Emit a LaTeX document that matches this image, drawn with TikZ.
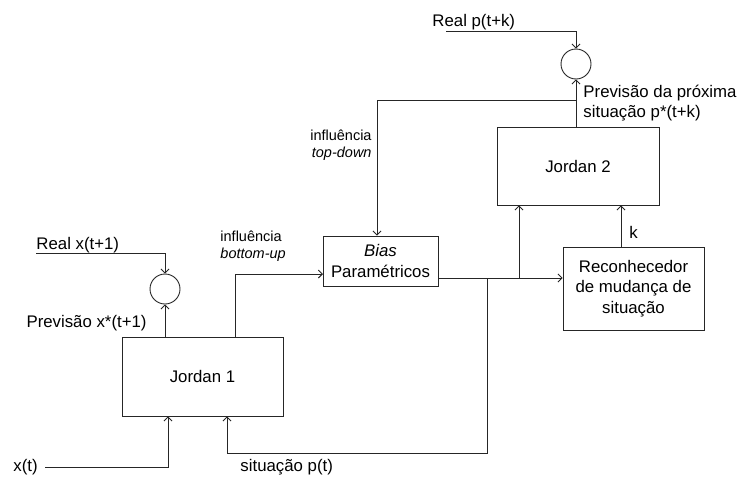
\documentclass[tikz,border=0pt]{standalone}
\usepackage{fontspec}
\setmainfont{Liberation Sans}
\usetikzlibrary{arrows.meta}
\begin{document}
\begin{tikzpicture}[x=1pt,y=-1pt,
  line width=0.9pt,
  flow/.style={draw=black!85, -{Straight Barb[length=4pt,width=8pt]}},
  block/.style={draw=black!85, rectangle, inner sep=0pt, align=center,
    font=\fontsize{16.8}{20.5}\selectfont},
  cmp/.style={draw=black!85, circle, minimum size=30pt, inner sep=0pt},
  lbl/.style={inner sep=0pt, font=\fontsize{16.8}{20.5}\selectfont},
  small/.style={inner sep=0pt, font=\fontsize{14.5}{17}\selectfont},
]
\useasboundingbox (0,0) rectangle (741,477);

% blocks
\node[block, minimum width=161pt, minimum height=79pt] (j1) at (202.5,376.5) {Jordan 1};
\node[block, minimum width=115pt, minimum height=50pt] (bias) at (380.5,261) {\textit{Bias}\\Paramétricos};
\node[block, minimum width=141pt, minimum height=83pt] (rec) at (633.5,288.5) {Reconhecedor\\de mudança de\\situação};
\node[block, minimum width=162pt, minimum height=78pt] (j2) at (578,166) {Jordan 2};

% comparators
\node[cmp] (c1) at (165,289) {};
\node[cmp] (c2) at (576,64) {};

% free ends and branch points
\coordinate (rx) at (36,253);
\coordinate (rp) at (446,31);
\coordinate (xt) at (45,467);
\coordinate (bu) at (235,337);
\coordinate (buin) at (323,274);
\coordinate (bo) at (438,278);
\coordinate (ja) at (487,278);
\coordinate (jb) at (519,278);
\coordinate (kout) at (621,247);
\coordinate (sp) at (227,453);
\coordinate (td) at (576,100);

% level 1
\draw[flow] (rx) -| (c1.north);
\draw[flow] (j1.north -| c1) -- (c1.south);
\draw[flow] (xt) -| (j1.south -| 168,0);
\draw[flow] (bu) |- (buin);

% situation path
\draw[flow] (bo) -- (rec.west |- bo);
\draw[flow] (jb) -- (jb |- j2.south);
\draw[flow] (kout) -- (kout |- j2.south);
\draw[flow] (ja) |- (sp) -- (sp |- j1.south);

% level 2
\draw[flow] (j2.north -| c2) -- (c2.south);
\draw[flow] (rp) -| (c2.north);
\draw[flow] (td) -| (bias.north -| 377,0);

% labels
\node[lbl, anchor=west] (lrx) at (36,245) {Real x(t+1)};
\node[lbl, anchor=east] (lpx) at (147,323) {Previsão x*(t+1)};
\node[lbl, anchor=west] (lxt) at (13,467) {x(t)};
\node[lbl, anchor=west] (lsp) at (240,467) {situação p(t)};
\node[small, anchor=west, align=left] (lbu) at (220,246.5) {influência\\\textit{bottom-up}};
\node[small, anchor=east, align=right] (ltd) at (372,145.5) {influência\\\textit{top-down}};
\node[lbl, anchor=west] (lrp) at (432,22) {Real p(t+k)};
\node[lbl, anchor=west, align=left] (lpp) at (583,103) {Previsão da próxima\\situação p*(t+k)};
\node[lbl, anchor=west] (lk) at (629,232) {k};
\end{tikzpicture}
\end{document}
